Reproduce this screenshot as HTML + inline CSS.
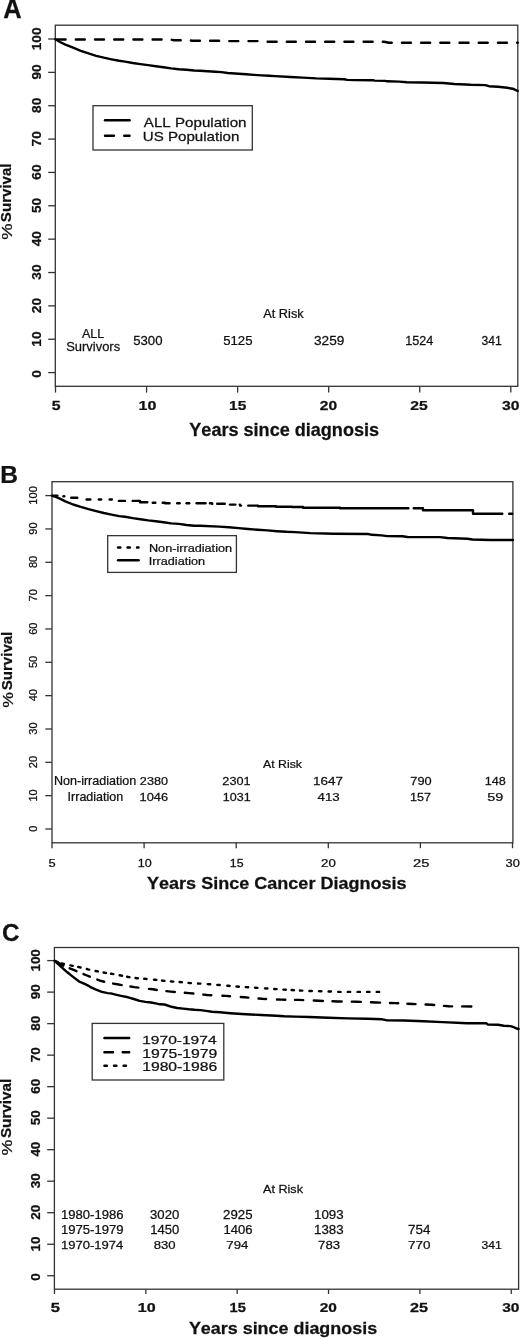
<!DOCTYPE html>
<html><head><meta charset="utf-8"><title>Survival curves</title>
<style>
html,body{margin:0;padding:0;background:#fff;}
body{width:520px;height:1339px;overflow:hidden;}
svg{display:block;}
text{font-family:"Liberation Sans",Arial,Helvetica,sans-serif;fill:#111;font-kerning:none;stroke:#111;stroke-width:0.25px;}
</style></head>
<body>
<svg width="520" height="1339" viewBox="0 0 520 1339">
<rect width="520" height="1339" fill="#fff"/>
<text transform="translate(3.37 17.60) scale(0.9428 1)" font-size="27.04" font-weight="bold">A</text>
<rect x="55.30" y="25.20" width="462.50" height="361.10" fill="none" stroke="#333" stroke-width="1.30"/>
<line x1="48.20" y1="39.00" x2="55.30" y2="39.00" stroke="#333" stroke-width="1.30"/>
<text transform="translate(40.80 50.25) rotate(-90) scale(1.0400 1)" font-size="13.14" font-weight="bold">100</text>
<line x1="48.20" y1="72.36" x2="55.30" y2="72.36" stroke="#333" stroke-width="1.30"/>
<text transform="translate(40.80 79.62) rotate(-90) scale(1.0400 1)" font-size="13.14" font-weight="bold">90</text>
<line x1="48.20" y1="105.72" x2="55.30" y2="105.72" stroke="#333" stroke-width="1.30"/>
<text transform="translate(40.80 112.96) rotate(-90) scale(1.0400 1)" font-size="13.14" font-weight="bold">80</text>
<line x1="48.20" y1="139.08" x2="55.30" y2="139.08" stroke="#333" stroke-width="1.30"/>
<text transform="translate(40.80 146.40) rotate(-90) scale(1.0400 1)" font-size="13.14" font-weight="bold">70</text>
<line x1="48.20" y1="172.44" x2="55.30" y2="172.44" stroke="#333" stroke-width="1.30"/>
<text transform="translate(40.80 179.71) rotate(-90) scale(1.0400 1)" font-size="13.14" font-weight="bold">60</text>
<line x1="48.20" y1="205.80" x2="55.30" y2="205.80" stroke="#333" stroke-width="1.30"/>
<text transform="translate(40.80 213.03) rotate(-90) scale(1.0400 1)" font-size="13.14" font-weight="bold">50</text>
<line x1="48.20" y1="239.16" x2="55.30" y2="239.16" stroke="#333" stroke-width="1.30"/>
<text transform="translate(40.80 246.28) rotate(-90) scale(1.0400 1)" font-size="13.14" font-weight="bold">40</text>
<line x1="48.20" y1="272.52" x2="55.30" y2="272.52" stroke="#333" stroke-width="1.30"/>
<text transform="translate(40.80 279.70) rotate(-90) scale(1.0400 1)" font-size="13.14" font-weight="bold">30</text>
<line x1="48.20" y1="305.88" x2="55.30" y2="305.88" stroke="#333" stroke-width="1.30"/>
<text transform="translate(40.80 313.14) rotate(-90) scale(1.0400 1)" font-size="13.14" font-weight="bold">20</text>
<line x1="48.20" y1="339.24" x2="55.30" y2="339.24" stroke="#333" stroke-width="1.30"/>
<text transform="translate(40.80 346.69) rotate(-90) scale(1.0400 1)" font-size="13.14" font-weight="bold">10</text>
<line x1="48.20" y1="372.60" x2="55.30" y2="372.60" stroke="#333" stroke-width="1.30"/>
<text transform="translate(40.80 377.79) rotate(-90) scale(1.0400 1)" font-size="13.14" font-weight="bold">0</text>
<text transform="translate(11.50 239.65) rotate(-90) scale(1.2459 1)" font-size="14.72" font-weight="normal">%</text>
<text transform="translate(11.40 222.13) rotate(-90) scale(1.0411 1)" font-size="14.49" font-weight="bold">Survival</text>
<line x1="55.50" y1="386.30" x2="55.50" y2="392.60" stroke="#333" stroke-width="1.30"/>
<text transform="translate(51.81 410.30) scale(1.2274 1)" font-size="12.94" font-weight="bold">5</text>
<line x1="146.56" y1="386.30" x2="146.56" y2="392.60" stroke="#333" stroke-width="1.30"/>
<text transform="translate(138.59 410.30) scale(1.2420 1)" font-size="12.94" font-weight="bold">10</text>
<line x1="237.62" y1="386.30" x2="237.62" y2="392.60" stroke="#333" stroke-width="1.30"/>
<text transform="translate(229.03 410.30) scale(1.1957 1)" font-size="12.94" font-weight="bold">15</text>
<line x1="328.68" y1="386.30" x2="328.68" y2="392.60" stroke="#333" stroke-width="1.30"/>
<text transform="translate(319.86 410.30) scale(1.2006 1)" font-size="12.94" font-weight="bold">20</text>
<line x1="419.74" y1="386.30" x2="419.74" y2="392.60" stroke="#333" stroke-width="1.30"/>
<text transform="translate(410.26 410.30) scale(1.2150 1)" font-size="12.94" font-weight="bold">25</text>
<line x1="510.80" y1="386.30" x2="510.80" y2="392.60" stroke="#333" stroke-width="1.30"/>
<text transform="translate(502.04 410.30) scale(1.2167 1)" font-size="12.94" font-weight="bold">30</text>
<text transform="translate(189.29 435.50) scale(1.0197 1)" font-size="17.73" font-weight="bold">Years since diagnosis</text>
<path d="M55.40 39.20 L60.00 42.00 L65.40 44.60 L73.10 47.70 L80.80 50.80 L88.50 53.40 L96.20 55.80 L103.80 57.70 L111.50 59.30 L119.20 60.80 L125.00 61.60 L132.70 63.00 L140.40 64.10 L148.10 65.10 L155.80 66.20 L163.50 67.20 L171.20 68.40 L178.80 69.20 L186.50 69.80 L194.20 70.50 L200.00 70.80 L207.70 71.20 L215.40 71.70 L221.50 72.10 L227.70 73.00 L238.50 73.80 L246.20 74.30 L253.80 74.90 L261.50 75.40 L269.20 75.80 L275.00 76.10 L290.40 77.00 L302.70 77.60 L316.50 78.40 L328.80 78.80 L344.20 79.30 L347.30 79.90 L355.00 80.10 L373.00 80.20 L374.60 80.60 L385.40 80.90 L386.90 81.30 L399.20 81.60 L406.90 82.30 L422.30 82.50 L443.30 83.00 L454.30 84.00 L470.70 84.80 L485.30 85.10 L489.00 86.20 L498.10 86.70 L507.30 87.80 L512.80 88.70 L516.40 90.40 L517.80 91.00" fill="none" stroke="#000" stroke-width="2.40" stroke-linecap="round" stroke-linejoin="round"/>
<path d="M55.40 39.50 L170.00 39.50 L174.00 40.20 L188.00 40.20 L192.00 40.70 L224.00 40.70 L228.00 41.10 L261.00 41.10 L265.00 41.80 L384.00 41.80 L389.00 42.80 L517.80 42.80" fill="none" stroke="#000" stroke-width="2.40" stroke-linecap="round" stroke-dasharray="9 10.2" stroke-dashoffset="-1.2"/>
<rect x="93.00" y="105.70" width="159.30" height="44.30" fill="none" stroke="#333" stroke-width="1.30"/>
<path d="M105.00 120.30 L129.60 120.30" fill="none" stroke="#000" stroke-width="2.40" stroke-linecap="round" stroke-linejoin="round"/>
<path d="M105.00 135.70 L129.60 135.70" fill="none" stroke="#000" stroke-width="2.40" stroke-linecap="round" stroke-linejoin="round" stroke-dasharray="9 10.2"/>
<text transform="translate(143.87 126.50) scale(1.1838 1)" font-size="12.79" font-weight="normal">ALL Population</text>
<text transform="translate(142.73 141.20) scale(1.1686 1)" font-size="12.94" font-weight="normal">US Population</text>
<text transform="translate(263.23 318.25) scale(1.0666 1)" font-size="11.99" font-weight="normal">At Risk</text>
<text transform="translate(81.98 338.10) scale(1.0346 1)" font-size="12.14" font-weight="normal">ALL</text>
<text transform="translate(66.16 351.25) scale(0.9753 1)" font-size="13.30" font-weight="normal">Survivors</text>
<text transform="translate(133.22 344.80) scale(1.0657 1)" font-size="12.35" font-weight="normal">5300</text>
<text transform="translate(223.22 344.80) scale(1.0672 1)" font-size="12.35" font-weight="normal">5125</text>
<text transform="translate(313.98 344.80) scale(1.1067 1)" font-size="12.35" font-weight="normal">3259</text>
<text transform="translate(405.29 344.80) scale(1.0217 1)" font-size="12.35" font-weight="normal">1524</text>
<text transform="translate(481.54 344.80) scale(0.9852 1)" font-size="12.35" font-weight="normal">341</text>
<text transform="translate(0.25 482.60) scale(1.0194 1)" font-size="24.13" font-weight="bold">B</text>
<rect x="52.00" y="481.70" width="460.90" height="361.10" fill="none" stroke="#333" stroke-width="1.30"/>
<line x1="45.30" y1="495.60" x2="52.00" y2="495.60" stroke="#333" stroke-width="1.30"/>
<text transform="translate(37.00 504.64) rotate(-90) scale(1.0200 1)" font-size="10.86" font-weight="normal">100</text>
<line x1="45.30" y1="528.94" x2="52.00" y2="528.94" stroke="#333" stroke-width="1.30"/>
<text transform="translate(37.00 534.74) rotate(-90) scale(1.0200 1)" font-size="10.86" font-weight="normal">90</text>
<line x1="45.30" y1="562.28" x2="52.00" y2="562.28" stroke="#333" stroke-width="1.30"/>
<text transform="translate(37.00 568.06) rotate(-90) scale(1.0200 1)" font-size="10.86" font-weight="normal">80</text>
<line x1="45.30" y1="595.62" x2="52.00" y2="595.62" stroke="#333" stroke-width="1.30"/>
<text transform="translate(37.00 601.45) rotate(-90) scale(1.0200 1)" font-size="10.86" font-weight="normal">70</text>
<line x1="45.30" y1="628.96" x2="52.00" y2="628.96" stroke="#333" stroke-width="1.30"/>
<text transform="translate(37.00 634.78) rotate(-90) scale(1.0200 1)" font-size="10.86" font-weight="normal">60</text>
<line x1="45.30" y1="662.30" x2="52.00" y2="662.30" stroke="#333" stroke-width="1.30"/>
<text transform="translate(37.00 668.06) rotate(-90) scale(1.0200 1)" font-size="10.86" font-weight="normal">50</text>
<line x1="45.30" y1="695.64" x2="52.00" y2="695.64" stroke="#333" stroke-width="1.30"/>
<text transform="translate(37.00 701.31) rotate(-90) scale(1.0200 1)" font-size="10.86" font-weight="normal">40</text>
<line x1="45.30" y1="728.98" x2="52.00" y2="728.98" stroke="#333" stroke-width="1.30"/>
<text transform="translate(37.00 734.73) rotate(-90) scale(1.0200 1)" font-size="10.86" font-weight="normal">30</text>
<line x1="45.30" y1="762.32" x2="52.00" y2="762.32" stroke="#333" stroke-width="1.30"/>
<text transform="translate(37.00 768.14) rotate(-90) scale(1.0200 1)" font-size="10.86" font-weight="normal">20</text>
<line x1="45.30" y1="795.66" x2="52.00" y2="795.66" stroke="#333" stroke-width="1.30"/>
<text transform="translate(37.00 801.62) rotate(-90) scale(1.0200 1)" font-size="10.86" font-weight="normal">10</text>
<line x1="45.30" y1="829.00" x2="52.00" y2="829.00" stroke="#333" stroke-width="1.30"/>
<text transform="translate(37.00 831.68) rotate(-90) scale(1.0200 1)" font-size="10.86" font-weight="normal">0</text>
<text transform="translate(12.60 707.83) rotate(-90) scale(1.1622 1)" font-size="15.15" font-weight="normal">%</text>
<text transform="translate(12.40 690.23) rotate(-90) scale(1.0012 1)" font-size="15.04" font-weight="bold">Survival</text>
<line x1="52.00" y1="842.80" x2="52.00" y2="848.20" stroke="#333" stroke-width="1.30"/>
<text transform="translate(48.58 866.90) scale(1.2125 1)" font-size="10.61" font-weight="normal">5</text>
<line x1="144.10" y1="842.80" x2="144.10" y2="848.20" stroke="#333" stroke-width="1.30"/>
<text transform="translate(137.75 866.90) scale(1.1815 1)" font-size="10.61" font-weight="normal">10</text>
<line x1="236.20" y1="842.80" x2="236.20" y2="848.20" stroke="#333" stroke-width="1.30"/>
<text transform="translate(229.86 866.90) scale(1.1660 1)" font-size="10.61" font-weight="normal">15</text>
<line x1="328.30" y1="842.80" x2="328.30" y2="848.20" stroke="#333" stroke-width="1.30"/>
<text transform="translate(321.04 866.90) scale(1.2438 1)" font-size="10.61" font-weight="normal">20</text>
<line x1="420.40" y1="842.80" x2="420.40" y2="848.20" stroke="#333" stroke-width="1.30"/>
<text transform="translate(413.01 866.90) scale(1.3859 1)" font-size="10.61" font-weight="normal">25</text>
<line x1="512.50" y1="842.80" x2="512.50" y2="848.20" stroke="#333" stroke-width="1.30"/>
<text transform="translate(505.51 866.90) scale(1.2109 1)" font-size="10.61" font-weight="normal">30</text>
<text transform="translate(146.99 888.60) scale(1.0889 1)" font-size="16.57" font-weight="bold">Years Since Cancer Diagnosis</text>
<path d="M51.80 495.70 L57.70 497.70 L65.40 501.40 L73.10 504.50 L80.80 506.90 L88.50 509.10 L96.20 511.10 L103.80 513.00 L111.50 514.60 L119.20 516.10 L125.00 516.70 L132.70 518.10 L140.40 519.20 L148.10 520.40 L155.80 521.20 L163.50 522.20 L171.20 523.40 L178.80 523.90 L186.50 525.00 L194.20 525.70 L200.00 525.80 L219.20 526.60 L228.80 527.20 L238.50 528.10 L248.10 529.00 L257.70 529.80 L267.30 530.40 L276.90 531.20 L286.50 531.80 L295.00 532.10 L310.40 533.10 L333.50 533.70 L368.10 534.00 L371.90 534.80 L381.50 535.40 L387.30 536.10 L402.50 536.30 L407.50 537.00 L440.00 537.10 L447.50 538.00 L467.50 538.70 L472.50 539.50 L490.00 540.00 L512.90 540.00" fill="none" stroke="#000" stroke-width="2.40" stroke-linecap="round" stroke-linejoin="round"/>
<path d="M53.20 495.60 L57.30 495.60" fill="none" stroke="#000" stroke-width="2.40" stroke-linecap="round" stroke-linejoin="round"/>
<path d="M63.50 496.20 L64.20 496.20" fill="none" stroke="#000" stroke-width="2.40" stroke-linecap="round" stroke-linejoin="round"/>
<path d="M71.20 497.70 L77.30 497.70" fill="none" stroke="#000" stroke-width="2.40" stroke-linecap="round" stroke-linejoin="round"/>
<path d="M86.60 499.50 L90.30 499.50" fill="none" stroke="#000" stroke-width="2.40" stroke-linecap="round" stroke-linejoin="round"/>
<path d="M98.90 499.50 L101.10 499.50" fill="none" stroke="#000" stroke-width="2.40" stroke-linecap="round" stroke-linejoin="round"/>
<path d="M109.70 499.50 L111.80 499.50" fill="none" stroke="#000" stroke-width="2.40" stroke-linecap="round" stroke-linejoin="round"/>
<path d="M118.90 500.90 L125.00 500.90" fill="none" stroke="#000" stroke-width="2.40" stroke-linecap="round" stroke-linejoin="round"/>
<path d="M132.70 500.90 L140.00 500.90 L140.00 502.30 L147.30 502.30" fill="none" stroke="#000" stroke-width="2.40" stroke-linecap="round" stroke-linejoin="round"/>
<path d="M152.70 502.80 L155.30 502.80" fill="none" stroke="#000" stroke-width="2.40" stroke-linecap="round" stroke-linejoin="round"/>
<path d="M162.70 502.80 L165.00 502.80 L165.00 503.20 L169.60 503.20" fill="none" stroke="#000" stroke-width="2.40" stroke-linecap="round" stroke-linejoin="round"/>
<path d="M177.20 503.20 L179.60 503.20" fill="none" stroke="#000" stroke-width="2.40" stroke-linecap="round" stroke-linejoin="round"/>
<path d="M186.60 503.20 L189.20 503.20" fill="none" stroke="#000" stroke-width="2.40" stroke-linecap="round" stroke-linejoin="round"/>
<path d="M196.60 503.20 L205.50 503.20" fill="none" stroke="#000" stroke-width="2.40" stroke-linecap="round" stroke-linejoin="round"/>
<path d="M209.90 503.20 L212.00 503.20 L212.00 503.70 L212.30 503.70" fill="none" stroke="#000" stroke-width="2.40" stroke-linecap="round" stroke-linejoin="round"/>
<path d="M217.20 503.70 L224.80 503.70" fill="none" stroke="#000" stroke-width="2.40" stroke-linecap="round" stroke-linejoin="round"/>
<path d="M230.00 504.60 L235.30 504.60" fill="none" stroke="#000" stroke-width="2.40" stroke-linecap="round" stroke-linejoin="round"/>
<path d="M239.70 504.60 L240.00 504.60 L240.00 505.60 L241.10 505.60" fill="none" stroke="#000" stroke-width="2.40" stroke-linecap="round" stroke-linejoin="round"/>
<path d="M248.20 505.60 L258.00 505.60 L258.00 506.30 L276.00 506.30 L276.00 506.70 L292.00 506.70 L292.00 507.00 L303.00 507.00 L303.00 507.70 L340.00 507.70 L340.00 508.20 L408.40 508.20" fill="none" stroke="#000" stroke-width="2.40" stroke-linecap="round" stroke-linejoin="round"/>
<path d="M413.70 508.20 L423.00 508.20 L423.00 510.30 L473.00 510.30 L473.00 513.80 L502.30 513.80" fill="none" stroke="#000" stroke-width="2.40" stroke-linecap="round" stroke-linejoin="round"/>
<path d="M509.20 513.80 L512.20 513.80" fill="none" stroke="#000" stroke-width="2.40" stroke-linecap="round" stroke-linejoin="round"/>
<rect x="107.70" y="535.65" width="128.70" height="36.75" fill="none" stroke="#333" stroke-width="1.30"/>
<path d="M118.00 547.50 L138.60 547.50" fill="none" stroke="#000" stroke-width="2.40" stroke-linecap="round" stroke-linejoin="round" stroke-dasharray="2.4 7.1"/>
<path d="M118.00 560.30 L138.60 560.30" fill="none" stroke="#000" stroke-width="2.40" stroke-linecap="round" stroke-linejoin="round"/>
<text transform="translate(148.96 552.20) scale(1.1774 1)" font-size="10.76" font-weight="normal">Non-irradiation</text>
<text transform="translate(148.83 564.70) scale(1.1165 1)" font-size="11.34" font-weight="normal">Irradiation</text>
<text transform="translate(262.98 768.00) scale(1.0592 1)" font-size="11.63" font-weight="normal">At Risk</text>
<text transform="translate(53.97 784.60) scale(1.0407 1)" font-size="12.06" font-weight="normal">Non-irradiation</text>
<text transform="translate(67.59 801.20) scale(1.0513 1)" font-size="11.92" font-weight="normal">Irradiation</text>
<text transform="translate(139.86 785.00) scale(1.0874 1)" font-size="11.63" font-weight="normal">2380</text>
<text transform="translate(222.36 785.00) scale(1.0924 1)" font-size="11.63" font-weight="normal">2301</text>
<text transform="translate(312.97 785.00) scale(1.1641 1)" font-size="11.63" font-weight="normal">1647</text>
<text transform="translate(410.34 785.00) scale(1.1008 1)" font-size="11.63" font-weight="normal">790</text>
<text transform="translate(484.74 785.00) scale(1.0883 1)" font-size="11.63" font-weight="normal">148</text>
<text transform="translate(139.52 801.20) scale(1.1463 1)" font-size="11.19" font-weight="normal">1046</text>
<text transform="translate(222.80 801.20) scale(1.1171 1)" font-size="11.19" font-weight="normal">1031</text>
<text transform="translate(317.59 801.20) scale(1.1883 1)" font-size="11.19" font-weight="normal">413</text>
<text transform="translate(410.04 801.20) scale(1.1241 1)" font-size="11.19" font-weight="normal">157</text>
<text transform="translate(487.22 801.20) scale(1.2902 1)" font-size="11.19" font-weight="normal">59</text>
<text transform="translate(2.10 941.40) scale(1.0140 1)" font-size="23.98" font-weight="bold">C</text>
<rect x="54.40" y="947.50" width="464.20" height="341.70" fill="none" stroke="#333" stroke-width="1.30"/>
<line x1="47.20" y1="960.60" x2="54.40" y2="960.60" stroke="#333" stroke-width="1.30"/>
<text transform="translate(40.30 971.57) rotate(-90) scale(1.0700 1)" font-size="12.57" font-weight="bold">100</text>
<line x1="47.20" y1="992.12" x2="54.40" y2="992.12" stroke="#333" stroke-width="1.30"/>
<text transform="translate(40.30 999.15) rotate(-90) scale(1.0700 1)" font-size="12.57" font-weight="bold">90</text>
<line x1="47.20" y1="1023.63" x2="54.40" y2="1023.63" stroke="#333" stroke-width="1.30"/>
<text transform="translate(40.30 1030.65) rotate(-90) scale(1.0700 1)" font-size="12.57" font-weight="bold">80</text>
<line x1="47.20" y1="1055.14" x2="54.40" y2="1055.14" stroke="#333" stroke-width="1.30"/>
<text transform="translate(40.30 1062.24) rotate(-90) scale(1.0700 1)" font-size="12.57" font-weight="bold">70</text>
<line x1="47.20" y1="1086.66" x2="54.40" y2="1086.66" stroke="#333" stroke-width="1.30"/>
<text transform="translate(40.30 1093.71) rotate(-90) scale(1.0700 1)" font-size="12.57" font-weight="bold">60</text>
<line x1="47.20" y1="1118.17" x2="54.40" y2="1118.17" stroke="#333" stroke-width="1.30"/>
<text transform="translate(40.30 1125.19) rotate(-90) scale(1.0700 1)" font-size="12.57" font-weight="bold">50</text>
<line x1="47.20" y1="1149.69" x2="54.40" y2="1149.69" stroke="#333" stroke-width="1.30"/>
<text transform="translate(40.30 1156.60) rotate(-90) scale(1.0700 1)" font-size="12.57" font-weight="bold">40</text>
<line x1="47.20" y1="1181.20" x2="54.40" y2="1181.20" stroke="#333" stroke-width="1.30"/>
<text transform="translate(40.30 1188.16) rotate(-90) scale(1.0700 1)" font-size="12.57" font-weight="bold">30</text>
<line x1="47.20" y1="1212.72" x2="54.40" y2="1212.72" stroke="#333" stroke-width="1.30"/>
<text transform="translate(40.30 1219.76) rotate(-90) scale(1.0700 1)" font-size="12.57" font-weight="bold">20</text>
<line x1="47.20" y1="1244.24" x2="54.40" y2="1244.24" stroke="#333" stroke-width="1.30"/>
<text transform="translate(40.30 1251.46) rotate(-90) scale(1.0700 1)" font-size="12.57" font-weight="bold">10</text>
<line x1="47.20" y1="1275.75" x2="54.40" y2="1275.75" stroke="#333" stroke-width="1.30"/>
<text transform="translate(40.30 1280.78) rotate(-90) scale(1.0700 1)" font-size="12.57" font-weight="bold">0</text>
<text transform="translate(11.50 1155.44) rotate(-90) scale(1.2127 1)" font-size="14.72" font-weight="normal">%</text>
<text transform="translate(11.40 1138.04) rotate(-90) scale(1.0622 1)" font-size="14.35" font-weight="bold">Survival</text>
<line x1="54.50" y1="1289.20" x2="54.50" y2="1294.00" stroke="#333" stroke-width="1.30"/>
<text transform="translate(50.74 1312.00) scale(1.3580 1)" font-size="12.21" font-weight="bold">5</text>
<line x1="145.85" y1="1289.20" x2="145.85" y2="1294.00" stroke="#333" stroke-width="1.30"/>
<text transform="translate(137.79 1312.00) scale(1.3159 1)" font-size="12.21" font-weight="bold">10</text>
<line x1="237.20" y1="1289.20" x2="237.20" y2="1294.00" stroke="#333" stroke-width="1.30"/>
<text transform="translate(229.48 1312.00) scale(1.2027 1)" font-size="12.21" font-weight="bold">15</text>
<line x1="328.55" y1="1289.20" x2="328.55" y2="1294.00" stroke="#333" stroke-width="1.30"/>
<text transform="translate(319.66 1312.00) scale(1.2642 1)" font-size="12.21" font-weight="bold">20</text>
<line x1="419.90" y1="1289.20" x2="419.90" y2="1294.00" stroke="#333" stroke-width="1.30"/>
<text transform="translate(409.94 1312.00) scale(1.3263 1)" font-size="12.21" font-weight="bold">25</text>
<line x1="511.25" y1="1289.20" x2="511.25" y2="1294.00" stroke="#333" stroke-width="1.30"/>
<text transform="translate(502.14 1312.00) scale(1.2696 1)" font-size="12.21" font-weight="bold">30</text>
<text transform="translate(188.89 1333.60) scale(1.0820 1)" font-size="16.57" font-weight="bold">Years since diagnosis</text>
<path d="M54.60 960.80 L61.50 967.10 L67.30 972.30 L73.10 976.90 L78.80 981.30 L84.60 983.80 L88.10 985.60 L90.40 987.10 L96.10 989.60 L101.90 991.80 L107.70 993.10 L110.80 993.40 L116.50 994.80 L122.30 996.10 L128.10 997.30 L133.80 999.00 L139.60 1000.90 L145.40 1001.90 L151.10 1002.50 L156.90 1003.60 L160.00 1004.30 L164.60 1004.50 L171.50 1006.80 L177.30 1008.00 L183.10 1008.60 L188.80 1009.30 L194.60 1009.80 L200.40 1010.10 L206.10 1010.90 L211.90 1011.70 L220.00 1012.30 L230.40 1013.20 L245.80 1014.20 L261.20 1015.00 L276.50 1015.70 L284.20 1016.30 L295.00 1016.60 L309.20 1017.00 L328.50 1017.80 L347.70 1018.40 L366.90 1018.80 L382.30 1019.30 L386.20 1020.20 L404.20 1020.50 L423.50 1021.30 L442.70 1022.10 L461.90 1023.00 L466.90 1023.20 L486.50 1023.20 L487.70 1024.50 L498.10 1024.80 L503.80 1025.70 L510.70 1026.10 L514.20 1027.40 L516.50 1028.50 L518.60 1029.00" fill="none" stroke="#000" stroke-width="2.40" stroke-linecap="round" stroke-linejoin="round"/>
<path d="M56.20 961.69 L60.00 963.80 L63.30 965.65" fill="none" stroke="#000" stroke-width="2.40" stroke-linecap="round" stroke-linejoin="round"/>
<path d="M69.70 968.36 L73.00 969.60 L76.50 971.15" fill="none" stroke="#000" stroke-width="2.40" stroke-linecap="round" stroke-linejoin="round"/>
<path d="M83.50 974.10 L87.00 975.50 L89.80 976.67" fill="none" stroke="#000" stroke-width="2.40" stroke-linecap="round" stroke-linejoin="round"/>
<path d="M97.30 979.60 L100.00 980.60 L104.20 981.74" fill="none" stroke="#000" stroke-width="2.40" stroke-linecap="round" stroke-linejoin="round"/>
<path d="M113.10 983.57 L117.30 984.30 L121.70 985.10" fill="none" stroke="#000" stroke-width="2.40" stroke-linecap="round" stroke-linejoin="round"/>
<path d="M130.40 986.50 L134.40 987.10 L138.40 987.60" fill="none" stroke="#000" stroke-width="2.40" stroke-linecap="round" stroke-linejoin="round"/>
<path d="M148.90 988.85 L152.90 989.30 L156.80 989.96" fill="none" stroke="#000" stroke-width="2.40" stroke-linecap="round" stroke-linejoin="round"/>
<path d="M166.40 991.16 L170.60 991.60 L174.90 991.97" fill="none" stroke="#000" stroke-width="2.40" stroke-linecap="round" stroke-linejoin="round"/>
<path d="M184.80 992.77 L189.10 993.10 L193.40 993.53" fill="none" stroke="#000" stroke-width="2.40" stroke-linecap="round" stroke-linejoin="round"/>
<path d="M203.30 994.57 L207.30 995.00 L211.30 995.28" fill="none" stroke="#000" stroke-width="2.40" stroke-linecap="round" stroke-linejoin="round"/>
<path d="M222.40 995.79 L226.10 995.90 L230.00 996.21" fill="none" stroke="#000" stroke-width="2.40" stroke-linecap="round" stroke-linejoin="round"/>
<path d="M240.80 997.03 L244.50 997.30 L248.40 997.67" fill="none" stroke="#000" stroke-width="2.40" stroke-linecap="round" stroke-linejoin="round"/>
<path d="M258.50 998.52 L262.20 998.80 L266.10 999.00" fill="none" stroke="#000" stroke-width="2.40" stroke-linecap="round" stroke-linejoin="round"/>
<path d="M277.00 999.46 L281.20 999.60 L285.30 999.69" fill="none" stroke="#000" stroke-width="2.40" stroke-linecap="round" stroke-linejoin="round"/>
<path d="M295.00 999.85 L299.20 999.90 L303.20 1000.08" fill="none" stroke="#000" stroke-width="2.40" stroke-linecap="round" stroke-linejoin="round"/>
<path d="M313.80 1000.57 L318.80 1000.80 L322.90 1000.95" fill="none" stroke="#000" stroke-width="2.40" stroke-linecap="round" stroke-linejoin="round"/>
<path d="M332.50 1001.31 L337.70 1001.50 L341.70 1001.54" fill="none" stroke="#000" stroke-width="2.40" stroke-linecap="round" stroke-linejoin="round"/>
<path d="M351.80 1001.65 L356.70 1001.70 L360.90 1001.88" fill="none" stroke="#000" stroke-width="2.40" stroke-linecap="round" stroke-linejoin="round"/>
<path d="M371.00 1002.30 L375.80 1002.50 L380.10 1002.63" fill="none" stroke="#000" stroke-width="2.40" stroke-linecap="round" stroke-linejoin="round"/>
<path d="M390.00 1002.93 L395.60 1003.10 L398.20 1003.24" fill="none" stroke="#000" stroke-width="2.40" stroke-linecap="round" stroke-linejoin="round"/>
<path d="M407.40 1003.71 L412.90 1004.00 L415.50 1004.11" fill="none" stroke="#000" stroke-width="2.40" stroke-linecap="round" stroke-linejoin="round"/>
<path d="M425.60 1004.53 L432.10 1004.80 L434.30 1004.99" fill="none" stroke="#000" stroke-width="2.40" stroke-linecap="round" stroke-linejoin="round"/>
<path d="M443.90 1005.86 L448.70 1006.30 L452.10 1006.33" fill="none" stroke="#000" stroke-width="2.40" stroke-linecap="round" stroke-linejoin="round"/>
<path d="M462.20 1006.41 L471.30 1006.49" fill="none" stroke="#000" stroke-width="2.40" stroke-linecap="round" stroke-linejoin="round"/>
<path d="M55.30 961.08 L57.70 962.03" fill="none" stroke="#000" stroke-width="2.40" stroke-linecap="round" stroke-linejoin="round"/>
<path d="M61.50 963.39 L63.90 964.01" fill="none" stroke="#000" stroke-width="2.40" stroke-linecap="round" stroke-linejoin="round"/>
<path d="M70.40 965.36 L71.60 965.60 L72.80 965.84" fill="none" stroke="#000" stroke-width="2.40" stroke-linecap="round" stroke-linejoin="round"/>
<path d="M78.20 966.92 L80.60 967.47" fill="none" stroke="#000" stroke-width="2.40" stroke-linecap="round" stroke-linejoin="round"/>
<path d="M86.80 969.00 L88.00 969.30 L89.20 969.57" fill="none" stroke="#000" stroke-width="2.40" stroke-linecap="round" stroke-linejoin="round"/>
<path d="M95.50 970.99 L97.90 971.42" fill="none" stroke="#000" stroke-width="2.40" stroke-linecap="round" stroke-linejoin="round"/>
<path d="M103.60 972.52 L105.00 972.80 L106.00 972.95" fill="none" stroke="#000" stroke-width="2.40" stroke-linecap="round" stroke-linejoin="round"/>
<path d="M111.00 973.72 L112.20 973.90 L113.40 974.12" fill="none" stroke="#000" stroke-width="2.40" stroke-linecap="round" stroke-linejoin="round"/>
<path d="M119.60 975.28 L120.80 975.50 L122.00 975.74" fill="none" stroke="#000" stroke-width="2.40" stroke-linecap="round" stroke-linejoin="round"/>
<path d="M127.10 976.76 L128.30 977.00 L129.50 977.17" fill="none" stroke="#000" stroke-width="2.40" stroke-linecap="round" stroke-linejoin="round"/>
<path d="M135.50 978.03 L136.70 978.20 L137.90 978.30" fill="none" stroke="#000" stroke-width="2.40" stroke-linecap="round" stroke-linejoin="round"/>
<path d="M144.20 978.80 L145.40 978.90 L146.60 979.01" fill="none" stroke="#000" stroke-width="2.40" stroke-linecap="round" stroke-linejoin="round"/>
<path d="M154.00 979.69 L155.20 979.80 L156.40 979.93" fill="none" stroke="#000" stroke-width="2.40" stroke-linecap="round" stroke-linejoin="round"/>
<path d="M162.10 980.58 L163.20 980.70 L164.50 980.82" fill="none" stroke="#000" stroke-width="2.40" stroke-linecap="round" stroke-linejoin="round"/>
<path d="M170.90 981.39 L172.10 981.50 L173.30 981.58" fill="none" stroke="#000" stroke-width="2.40" stroke-linecap="round" stroke-linejoin="round"/>
<path d="M179.60 982.02 L180.80 982.10 L182.00 982.22" fill="none" stroke="#000" stroke-width="2.40" stroke-linecap="round" stroke-linejoin="round"/>
<path d="M188.50 982.89 L189.60 983.00 L190.90 983.08" fill="none" stroke="#000" stroke-width="2.40" stroke-linecap="round" stroke-linejoin="round"/>
<path d="M198.00 983.52 L199.20 983.60 L200.40 983.67" fill="none" stroke="#000" stroke-width="2.40" stroke-linecap="round" stroke-linejoin="round"/>
<path d="M207.80 984.13 L209.00 984.20 L210.20 984.29" fill="none" stroke="#000" stroke-width="2.40" stroke-linecap="round" stroke-linejoin="round"/>
<path d="M217.30 984.85 L219.20 985.00 L219.70 985.04" fill="none" stroke="#000" stroke-width="2.40" stroke-linecap="round" stroke-linejoin="round"/>
<path d="M227.30 985.70 L228.40 985.80 L229.70 985.94" fill="none" stroke="#000" stroke-width="2.40" stroke-linecap="round" stroke-linejoin="round"/>
<path d="M236.50 986.56 L238.90 986.71" fill="none" stroke="#000" stroke-width="2.40" stroke-linecap="round" stroke-linejoin="round"/>
<path d="M245.70 987.14 L248.10 987.30" fill="none" stroke="#000" stroke-width="2.40" stroke-linecap="round" stroke-linejoin="round"/>
<path d="M255.00 987.74 L257.40 987.89" fill="none" stroke="#000" stroke-width="2.40" stroke-linecap="round" stroke-linejoin="round"/>
<path d="M265.00 988.36 L267.40 988.52" fill="none" stroke="#000" stroke-width="2.40" stroke-linecap="round" stroke-linejoin="round"/>
<path d="M274.20 988.97 L276.60 989.15" fill="none" stroke="#000" stroke-width="2.40" stroke-linecap="round" stroke-linejoin="round"/>
<path d="M283.40 989.62 L285.80 989.76" fill="none" stroke="#000" stroke-width="2.40" stroke-linecap="round" stroke-linejoin="round"/>
<path d="M291.60 990.07 L294.00 990.20" fill="none" stroke="#000" stroke-width="2.40" stroke-linecap="round" stroke-linejoin="round"/>
<path d="M299.90 990.52 L301.50 990.60 L302.30 990.63" fill="none" stroke="#000" stroke-width="2.40" stroke-linecap="round" stroke-linejoin="round"/>
<path d="M309.40 990.94 L310.80 991.00 L311.80 991.02" fill="none" stroke="#000" stroke-width="2.40" stroke-linecap="round" stroke-linejoin="round"/>
<path d="M319.00 991.17 L320.40 991.20 L321.40 991.23" fill="none" stroke="#000" stroke-width="2.40" stroke-linecap="round" stroke-linejoin="round"/>
<path d="M328.60 991.46 L330.00 991.50 L331.00 991.54" fill="none" stroke="#000" stroke-width="2.40" stroke-linecap="round" stroke-linejoin="round"/>
<path d="M338.20 991.84 L339.60 991.90 L340.60 991.90" fill="none" stroke="#000" stroke-width="2.40" stroke-linecap="round" stroke-linejoin="round"/>
<path d="M347.80 991.90 L350.20 991.90" fill="none" stroke="#000" stroke-width="2.40" stroke-linecap="round" stroke-linejoin="round"/>
<path d="M357.50 991.90 L359.90 991.90" fill="none" stroke="#000" stroke-width="2.40" stroke-linecap="round" stroke-linejoin="round"/>
<path d="M367.10 991.90 L369.50 991.90" fill="none" stroke="#000" stroke-width="2.40" stroke-linecap="round" stroke-linejoin="round"/>
<path d="M376.70 991.90 L379.10 991.90" fill="none" stroke="#000" stroke-width="2.40" stroke-linecap="round" stroke-linejoin="round"/>
<rect x="92.20" y="1023.40" width="131.60" height="56.60" fill="none" stroke="#333" stroke-width="1.30"/>
<path d="M104.40 1038.00 L129.20 1038.00" fill="none" stroke="#000" stroke-width="2.40" stroke-linecap="round" stroke-linejoin="round"/>
<path d="M104.40 1052.30 L129.20 1052.30" fill="none" stroke="#000" stroke-width="2.40" stroke-linecap="round" stroke-linejoin="round" stroke-dasharray="8.6 9.7"/>
<path d="M104.40 1065.70 L126.50 1065.70" fill="none" stroke="#000" stroke-width="2.40" stroke-linecap="round" stroke-linejoin="round" stroke-dasharray="2.4 7.2"/>
<text transform="translate(142.21 1043.60) scale(1.3222 1)" font-size="11.77" font-weight="normal">1970-1974</text>
<text transform="translate(142.20 1057.50) scale(1.3183 1)" font-size="11.92" font-weight="normal">1975-1979</text>
<text transform="translate(142.20 1071.40) scale(1.3015 1)" font-size="12.06" font-weight="normal">1980-1986</text>
<text transform="translate(262.98 1193.00) scale(1.0864 1)" font-size="11.63" font-weight="normal">At Risk</text>
<text transform="translate(61.00 1218.70) scale(1.0978 1)" font-size="11.92" font-weight="normal">1980-1986</text>
<text transform="translate(61.00 1234.10) scale(1.0853 1)" font-size="12.06" font-weight="normal">1975-1979</text>
<text transform="translate(61.01 1249.30) scale(1.1217 1)" font-size="11.63" font-weight="normal">1970-1974</text>
<text transform="translate(150.00 1218.70) scale(1.1037 1)" font-size="11.92" font-weight="normal">3020</text>
<text transform="translate(223.08 1218.70) scale(1.1116 1)" font-size="11.92" font-weight="normal">2925</text>
<text transform="translate(313.99 1218.70) scale(1.1163 1)" font-size="11.92" font-weight="normal">1093</text>
<text transform="translate(150.26 1234.10) scale(1.0806 1)" font-size="12.06" font-weight="normal">1450</text>
<text transform="translate(223.50 1234.10) scale(1.0831 1)" font-size="12.06" font-weight="normal">1406</text>
<text transform="translate(313.99 1234.10) scale(1.1028 1)" font-size="12.06" font-weight="normal">1383</text>
<text transform="translate(408.06 1234.10) scale(1.1093 1)" font-size="12.06" font-weight="normal">754</text>
<text transform="translate(153.68 1249.30) scale(1.1252 1)" font-size="11.63" font-weight="normal">830</text>
<text transform="translate(226.32 1249.30) scale(1.1373 1)" font-size="11.63" font-weight="normal">794</text>
<text transform="translate(318.07 1249.30) scale(1.1343 1)" font-size="11.63" font-weight="normal">783</text>
<text transform="translate(408.06 1249.30) scale(1.1580 1)" font-size="11.63" font-weight="normal">770</text>
<text transform="translate(481.54 1249.30) scale(1.0467 1)" font-size="11.63" font-weight="normal">341</text>
</svg>
</body></html>
